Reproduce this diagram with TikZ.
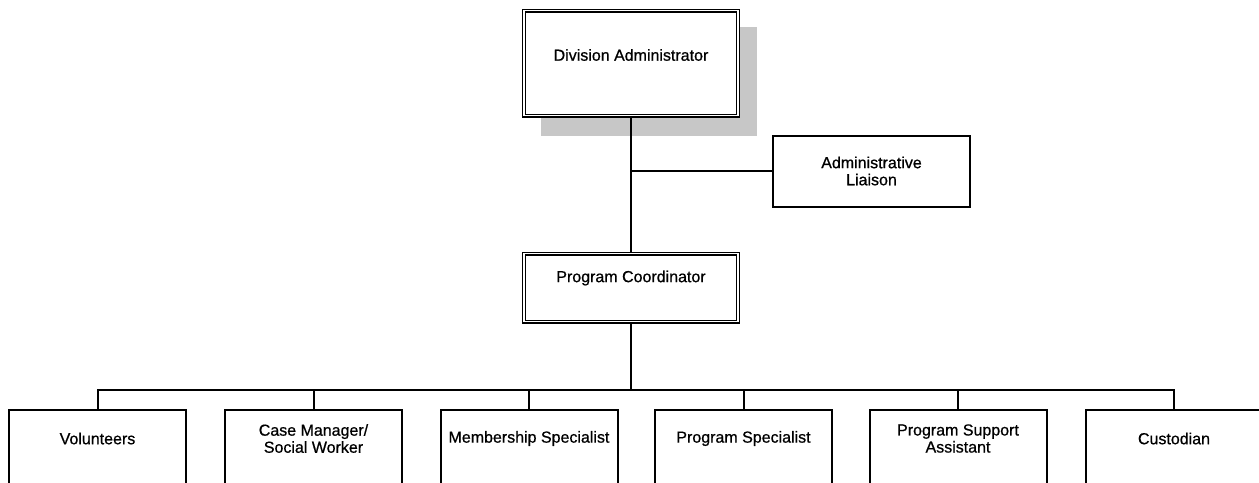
\documentclass[tikz,border=0pt]{standalone}
\usepackage{fontspec}
\setmainfont{Liberation Sans}[UprightFeatures={FakeBold=0.7}]
\usetikzlibrary{backgrounds,calc}
\tikzset{
  px/.style={x=0.75pt,y=-0.75pt},
  conn/.style={line width=1.5pt,black},
  dbox/.style={draw=black,fill=white,double=white,double distance=1.1pt,line width=0.95pt,inner sep=0pt,minimum width=214*0.75pt,anchor=north},
  sbox/.style={draw=black,fill=white,line width=1.5pt,inner sep=0pt,minimum width=177*0.75pt,anchor=north},
  lbl/.style={font=\fontsize{12}{12.8}\selectfont,align=center,inner sep=0pt},
  shadowbox/.style={fill=black!22,draw=none}
}
\begin{document}
\begin{tikzpicture}[px]
\clip (0,0) rectangle (1259,482);
% top box
\node[dbox,minimum height=105*0.75pt] (da) at (631,10) {};
\node[lbl] (dat) at (631,55) {Division Administrator};
% liaison
\node[sbox,minimum width=197*0.75pt,minimum height=71*0.75pt] (al) at (871.5,135) {};
\node[lbl] (alt) at (871.5,171) {Administrative\\Liaison};
% coordinator
\node[dbox,minimum height=68*0.75pt] (pc) at (631,253) {};
\node[lbl] (pct) at (631,278) {Program Coordinator};
% bottom row
\foreach \n/\x/\t in {b1/97.5/Volunteers,
                       b2/313.5/{Case Manager/\\Social Worker},
                       b3/529/Membership Specialist,
                       b4/743.5/Program Specialist,
                       b5/958/{Program Support\\Assistant},
                       b6/1174/Custodian}{
  \node[sbox,minimum height=120*0.75pt] (\n) at (\x,409) {};
  \node[lbl] (\n t) at (\x,438.5) {\t};
}
\coordinate (junction) at (631,170.5);
\coordinate (bus) at (0,390);
\begin{pgfonlayer}{background}
  \fill[white] (0,0) rectangle (1259,482);
  % shadow of the top box
  \fill[shadowbox] (541,27) rectangle (757,136);
  \draw[conn] (da.south) -- (pc.north);
  \draw[conn] (da.south |- junction) -- (junction -| al.west);
  \draw[conn] (pc.south) -- (pc.south |- bus);
  \draw[conn] (b1.north) -- (b1.north |- bus) -- (b6.north |- bus) -- (b6.north);
  \foreach \n in {b2,b3,b4,b5}{
    \draw[conn] (\n.north) -- (\n.north |- bus);
  }
\end{pgfonlayer}
\end{tikzpicture}
\end{document}
